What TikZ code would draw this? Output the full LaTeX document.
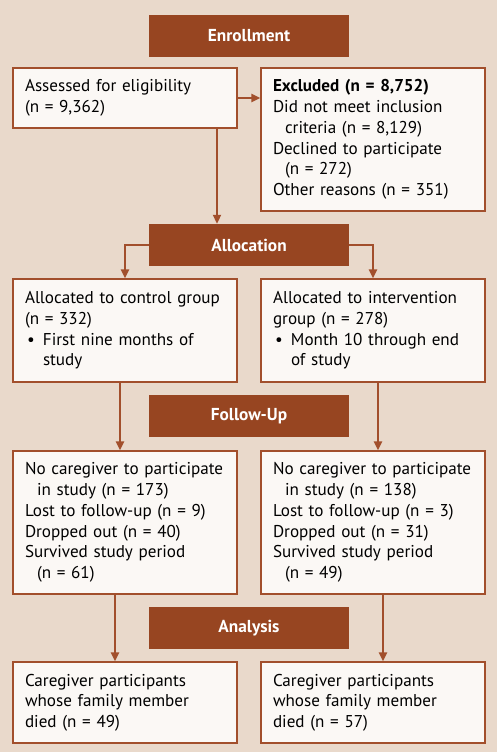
\documentclass[tikz,border=0pt]{standalone}
\usepackage{fontspec}
\setmainfont{PT Sans}
\usetikzlibrary{arrows.meta}
\definecolor{bgc}{HTML}{E9D9CB}
\definecolor{hdrc}{HTML}{974521}
\definecolor{boxc}{HTML}{FBF8F5}
\definecolor{linec}{HTML}{A24F2C}
\hyphenpenalty=10000
\begin{document}
\begin{tikzpicture}[x=1pt,y=-1pt,
  hdr/.style={fill=hdrc, text=white, font=\fontsize{17.3}{20}\selectfont\bfseries, minimum width=200pt, minimum height=42pt, inner sep=0pt},
  box/.style={draw=linec, line width=1.2pt, fill=boxc, minimum width=224pt, align=left, inner xsep=12pt, inner ysep=0pt, font=\fontsize{17.1}{20.7}\selectfont, text width=200pt},
  arr/.style={draw=linec, line width=2pt, -{Triangle[length=9pt,width=8pt]}}]
\fill[bgc] (0,0) rectangle (497,752);
\useasboundingbox (0,0) rectangle (497,752);
\coordinate (c1) at (217,0);
\coordinate (c2) at (120,0);
\coordinate (c3) at (378,0);
\coordinate (c4) at (115,0);
\coordinate (c5) at (383,0);
\node[hdr] (enr) at (249,36) {Enrollment};
\node[box, minimum height=60pt] (ass) at (125,98) {Assessed for eligibility\\(n = 9,362)};
\node[box, minimum height=143pt] (exc) at (373,139.5) {\textbf{Excluded (n = 8,752)}\\Did not meet inclusion\\\hspace*{12pt}criteria (n = 8,129)\\Declined to participate\\\hspace*{12pt}(n = 272)\\Other reasons (n = 351)};
\node[hdr] (alloc) at (249,245) {Allocation};
\node[box, minimum height=103pt] (ctl) at (125,330.5) {Allocated to control group\\(n = 332)\\\makebox[18pt][l]{\hspace*{2pt}•}First nine months of\\\hspace*{18pt}study};
\node[box, minimum height=103pt] (int) at (373,330.5) {Allocated to intervention\\group (n = 278)\\\makebox[18pt][l]{\hspace*{2pt}•}Month 10 through end\\\hspace*{18pt}of study};
\node[hdr] (fu) at (249,416) {Follow-Up};
\node[box, minimum height=143pt] (fu1) at (125,522.5) {\mbox{No caregiver to participate}\\\hspace*{12pt}in study (n = 173)\\Lost to follow-up (n = 9)\\Dropped out (n = 40)\\Survived study period\\\hspace*{12pt}(n = 61)};
\node[box, minimum height=143pt] (fu2) at (373,522.5) {\mbox{No caregiver to participate}\\\hspace*{12pt}in study (n = 138)\\Lost to follow-up (n = 3)\\Dropped out (n = 31)\\Survived study period\\\hspace*{12pt}(n = 49)};
\node[hdr] (ana) at (249,628) {Analysis};
\node[box, minimum height=81pt] (an1) at (125,702.5) {Caregiver participants\\whose family member\\died (n = 49)};
\node[box, minimum height=81pt] (an2) at (373,702.5) {Caregiver participants\\whose family member\\died (n = 57)};
\draw[arr] (ass.east) -- (exc.west |- ass.east);
\draw[arr] (ass.south -| c1) -- (alloc.north -| c1);
\draw[arr] (alloc.west) -| (ctl.north);
\draw[arr] (alloc.east) -| (int.north);
\draw[arr] (ctl.south -| c2) -- (fu1.north -| c2);
\draw[arr] (int.south -| c3) -- (fu2.north -| c3);
\draw[arr] (fu1.south -| c4) -- (an1.north -| c4);
\draw[arr] (fu2.south -| c5) -- (an2.north -| c5);
\end{tikzpicture}
\end{document}
